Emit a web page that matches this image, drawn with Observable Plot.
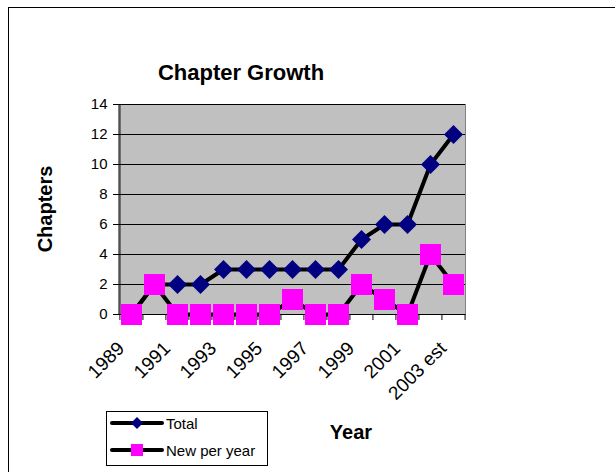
<!DOCTYPE html>
<html>
<head>
<meta charset="utf-8">
<script src="https://cdn.jsdelivr.net/npm/d3@7"></script>
<script src="https://cdn.jsdelivr.net/npm/@observablehq/plot@0.6"></script>
<style>
  html, body { margin: 0; padding: 0; background: #fff; }
  #wrap { position: relative; width: 615px; height: 472px; overflow: hidden; }
</style>
</head>
<body>
<div id="wrap"></div>
<script>
// ---- data ----
const years = ["1989","1990","1991","1992","1993","1994","1995","1996","1997","1998","1999","2000","2001","2002","2003 est"];
const total = [0, 2, 2, 2, 3, 3, 3, 3, 3, 3, 5, 6, 6, 10, 12];
const newPerYear = [0, 2, 0, 0, 0, 0, 0, 1, 0, 0, 2, 1, 0, 4, 2];
const xTickLabels = ["1989","1991","1993","1995","1997","1999","2001","2003 est"];
const yTicks = [0, 2, 4, 6, 8, 10, 12, 14];
const seriesNames = ["Total", "New per year"];

const data = years.map((year, i) => ({year, total: total[i], added: newPerYear[i]}));

// ---- layout ----
const W = 615, H = 472;
const mL = 118, mR = 150, mT = 104, mB = 158;
const step = (W - mL - mR) / years.length;
const font = "'Liberation Sans', Arial, Helvetica, sans-serif";

const diamondSym = {
  draw(ctx, size) {
    const r = Math.sqrt(size / Math.PI);
    ctx.moveTo(0, -r); ctx.lineTo(r, 0); ctx.lineTo(0, r); ctx.lineTo(-r, 0); ctx.closePath();
  }
};
const squareSym = {
  draw(ctx, size) {
    const r = Math.sqrt(size / Math.PI);
    ctx.rect(-r, -r, 2 * r, 2 * r);
  }
};

const chart = Plot.plot({
  width: W, height: H,
  marginLeft: mL, marginRight: mR, marginTop: mT, marginBottom: mB,
  style: {fontFamily: font, fontSize: "15px", color: "#000", background: "transparent", overflow: "visible"},
  x: {type: "point", domain: years, padding: 0.5, axis: null},
  y: {domain: [0, 14], ticks: yTicks, tickSize: 5, tickPadding: 6, label: null},
  marks: [
    Plot.frame({fill: "#c0c0c0", stroke: "#808080"}),
    Plot.ruleY(yTicks, {stroke: "#000", strokeWidth: 1}),
    Plot.ruleX([years[0]], {dx: -step / 2, stroke: "#000"}),
    Plot.ruleX(years, {x: d => d, dx: -step / 2, y1: 0, y2: 0, insetBottom: -6, stroke: "#000"}),
    Plot.ruleX([years[years.length - 1]], {dx: step / 2, y1: 0, y2: 0, insetBottom: -6, stroke: "#000"}),
    Plot.line(data, {x: "year", y: "total", stroke: "#000", strokeWidth: 4, strokeLinejoin: "round", strokeLinecap: "round"}),
    Plot.dot(data, {x: "year", y: "total", symbol: diamondSym, r: 9.5, fill: "#000080", stroke: "none"}),
    Plot.line(data, {x: "year", y: "added", stroke: "#000", strokeWidth: 4, strokeLinejoin: "round", strokeLinecap: "round"}),
    Plot.dot(data, {x: "year", y: "added", symbol: squareSym, r: 10.5, fill: "#ff00ff", stroke: "none"}),
    Plot.text(xTickLabels, {x: d => d, frameAnchor: "bottom", dx: -6, dy: 35, rotate: -45, textAnchor: "end", lineAnchor: "bottom", fontSize: 19, fill: "#000"})
  ]
});

document.getElementById("wrap").appendChild(chart);

// ---- chart furniture: outer border, titles, legend ----
const svg = d3.select(chart);
svg.insert("rect", ":first-child")
  .attr("x", 8.5).attr("y", 7.5).attr("width", 700).attr("height", 700)
  .attr("fill", "none").attr("stroke", "#000");

const g = svg.append("g").attr("font-family", font).attr("fill", "#000");
g.append("text").attr("x", 241).attr("y", 80).attr("text-anchor", "middle")
  .attr("font-size", 22).attr("font-weight", "bold").text("Chapter Growth");
g.append("text").attr("transform", "translate(52,209) rotate(-90)").attr("text-anchor", "middle")
  .attr("font-size", 20).attr("font-weight", "bold").text("Chapters");
g.append("text").attr("x", 351).attr("y", 439).attr("text-anchor", "middle")
  .attr("font-size", 20).attr("font-weight", "bold").text("Year");

const lg = svg.append("g").attr("font-family", font).attr("text-anchor", "start");
lg.append("rect").attr("x", 106.5).attr("y", 411.5).attr("width", 161).attr("height", 54)
  .attr("fill", "#fff").attr("stroke", "#000");
const rows = [{name: seriesNames[0], y: 423, sym: "diamond"}, {name: seriesNames[1], y: 450, sym: "square"}];
rows.forEach(r => {
  lg.append("line").attr("x1", 112).attr("x2", 162).attr("y1", r.y).attr("y2", r.y)
    .attr("stroke", "#000").attr("stroke-width", 4).attr("stroke-linecap", "round");
  if (r.sym === "diamond") {
    lg.append("path").attr("d", `M137,${r.y - 6}L143,${r.y}L137,${r.y + 6}L131,${r.y}Z`).attr("fill", "#000080");
  } else {
    lg.append("rect").attr("x", 131).attr("y", r.y - 6).attr("width", 12).attr("height", 12).attr("fill", "#ff00ff");
  }
  lg.append("text").attr("x", 166).attr("y", r.y + 6).attr("font-size", 15).attr("fill", "#000")
    .attr("text-anchor", "start").text(r.name);
});
</script>
</body>
</html>
